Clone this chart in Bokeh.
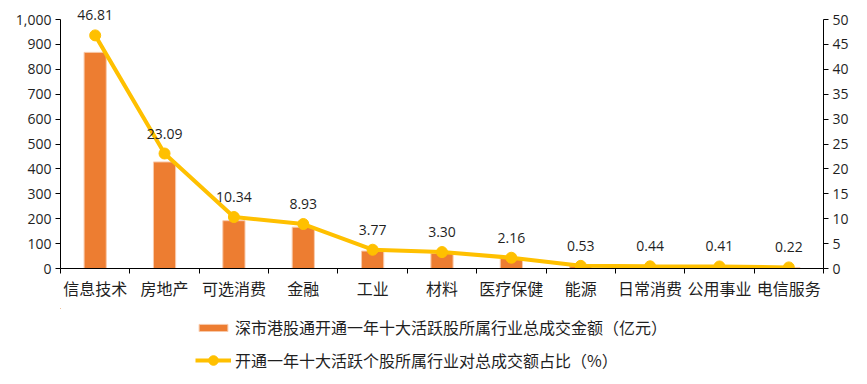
from bokeh.plotting import figure
from bokeh.layouts import column
from bokeh.models import (Range1d, LinearAxis, FixedTicker, NumeralTickFormatter,
                          ColumnDataSource, Legend, LegendItem)
from bokeh.core.properties import value
from bokeh.embed import file_html
from bokeh.resources import INLINE

categories = ["信息技术", "房地产", "可选消费", "金融", "工业", "材料", "医疗保健",
              "能源", "日常消费", "公用事业", "电信服务"]
amount = [868, 428, 192, 166, 70, 61, 40, 10, 8, 7.6, 4.1]
pct = [46.81, 23.09, 10.34, 8.93, 3.77, 3.30, 2.16, 0.53, 0.44, 0.41, 0.22]
left_ticks = [0, 100, 200, 300, 400, 500, 600, 700, 800, 900, 1000]
right_ticks = [0, 5, 10, 15, 20, 25, 30, 35, 40, 45, 50]
bar_name = "深市港股通开通一年十大活跃股所属行业总成交金额（亿元）"
line_name = "开通一年十大活跃个股所属行业对总成交额占比（%）"

BAR_C = "#ED7D31"
BAR_EDGE = "#F8CBAD"
LINE_C = "#FFC000"
FONT_CJK = "Noto Sans CJK SC"
FONT_NUM = "Open Sans"
TXT = "#1f1f1f"

n = len(categories)
xc = [i + 0.5 for i in range(n)]
src = ColumnDataSource(dict(x=xc, amount=amount, pct=pct,
                            lab=[f"{v:.2f}" for v in pct]))

# frame taller than the axes so the top data label has room
FRAME_H = 264
AXIS_PX = 249  # pixels covered by 0..1000 / 0..50
left_max = left_ticks[-1]
right_max = right_ticks[-1]

p = figure(frame_width=763, frame_height=FRAME_H, output_backend="svg",
           toolbar_location=None,
           x_range=Range1d(0, n),
           y_range=Range1d(0, left_max * FRAME_H / AXIS_PX),
           min_border_left=60, min_border_right=28, min_border_top=4,
           min_border_bottom=40, x_axis_type=None, y_axis_type=None)
p.extra_y_ranges = {"pct": Range1d(0, right_max * FRAME_H / AXIS_PX)}
p.outline_line_color = None
p.xgrid.visible = False
p.ygrid.visible = False

la = LinearAxis(ticker=FixedTicker(ticks=left_ticks),
                formatter=NumeralTickFormatter(format="0,0"),
                bounds=(0, left_max))
ra = LinearAxis(y_range_name="pct", ticker=FixedTicker(ticks=right_ticks),
                bounds=(0, right_max))
for ax in (la, ra):
    ax.axis_line_color = "black"
    ax.major_tick_line_color = "black"
    ax.major_tick_out = 5
    ax.major_tick_in = 0
    ax.minor_tick_line_color = None
    ax.major_label_text_font = FONT_NUM
    ax.major_label_text_font_size = "14px"
    ax.major_label_text_color = TXT
    ax.major_label_standoff = 4
p.add_layout(la, "left")
p.add_layout(ra, "right")

xa = LinearAxis(ticker=FixedTicker(ticks=xc, minor_ticks=list(range(n + 1))))
xa.major_label_overrides = {x: c for x, c in zip(xc, categories)}
xa.axis_line_color = "black"
xa.major_tick_line_color = None
xa.major_tick_out = 0
xa.minor_tick_line_color = "black"
xa.minor_tick_out = 5
xa.minor_tick_in = 0
xa.major_label_text_font = FONT_CJK
xa.major_label_text_font_size = "16px"
xa.major_label_text_color = TXT
xa.major_label_standoff = 2
p.add_layout(xa, "below")

p.vbar(x="x", top="amount", width=0.32, source=src,
       fill_color=BAR_C, line_color=BAR_EDGE, line_width=1)
p.line(x="x", y="pct", source=src, y_range_name="pct",
       line_color=LINE_C, line_width=4)
p.scatter(x="x", y="pct", source=src, y_range_name="pct", size=11,
          fill_color=LINE_C, line_color=LINE_C)
p.text(x="x", y="pct", text="lab", source=src, y_range_name="pct",
       text_align="center", text_baseline="middle", y_offset=-20,
       text_font=value(FONT_NUM), text_font_size="14px", text_color=TXT)

# legend panel: same series, drawn out of view, only used for the legend keys
p2 = figure(frame_width=763, frame_height=70, output_backend="svg",
            toolbar_location=None, x_range=Range1d(n + 10, n + 20),
            y_range=Range1d(-2000, -1000),
            min_border_left=60, min_border_right=28, min_border_top=0,
            min_border_bottom=0, x_axis_type=None, y_axis_type=None)
p2.outline_line_color = None
p2.xgrid.visible = False
p2.ygrid.visible = False
lb = p2.vbar(x="x", top="amount", width=0.32, source=src,
             fill_color=BAR_C, line_color=BAR_EDGE)
ll = p2.line(x="x", y="pct", source=src, line_color=LINE_C, line_width=4)
lm = p2.scatter(x="x", y="pct", source=src, size=10,
                fill_color=LINE_C, line_color=LINE_C)

common = dict(orientation="vertical", background_fill_alpha=0,
              border_line_color=None, label_text_font=FONT_CJK,
              label_text_font_size="16px", label_text_color=TXT,
              glyph_width=36, label_height=22, label_standoff=4,
              padding=0, margin=0)
leg1 = Legend(items=[LegendItem(label=bar_name, renderers=[lb])],
              location=(135, 39), glyph_height=9, **common)
leg2 = Legend(items=[LegendItem(label=line_name, renderers=[ll, lm])],
              location=(135, 6), glyph_height=24, **common)
p2.add_layout(leg1, "center")
p2.add_layout(leg2, "center")

open("out.html", "w").write(file_html(column(p, p2, spacing=0), INLINE))
